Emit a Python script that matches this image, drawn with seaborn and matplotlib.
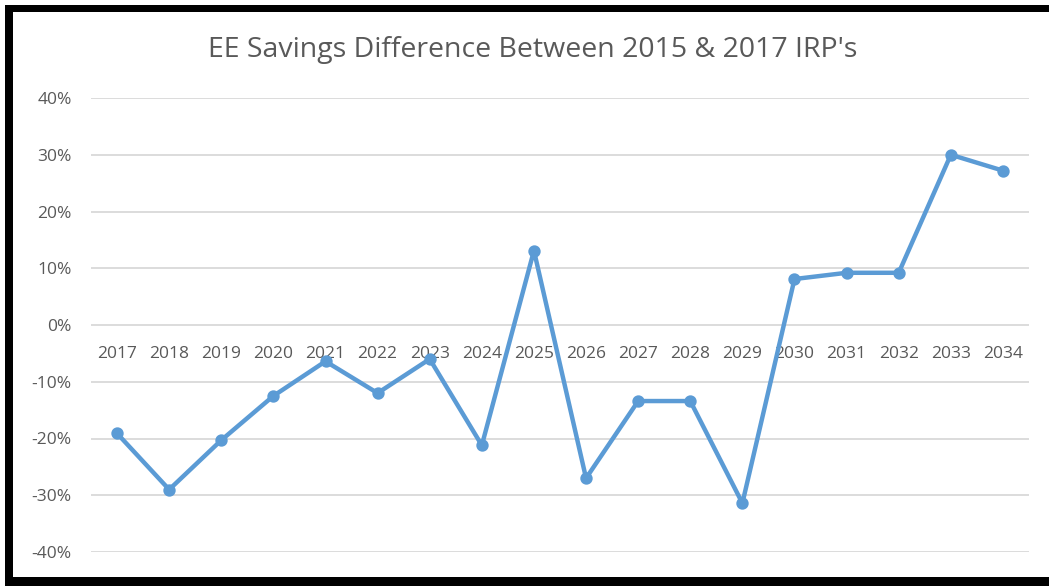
import matplotlib
matplotlib.use("Agg")
import matplotlib.pyplot as plt
from matplotlib.patches import Rectangle
from matplotlib.ticker import FuncFormatter, MultipleLocator
import seaborn as sns
import pandas as pd

years = ["2017", "2018", "2019", "2020", "2021", "2022", "2023", "2024", "2025",
         "2026", "2027", "2028", "2029", "2030", "2031", "2032", "2033", "2034"]
savings_diff = [-19.1, -29.0, -20.3, -12.5, -6.4, -12.0, -6.0, -21.2, 13.1,
                -27.0, -13.4, -13.4, -31.4, 8.1, 9.2, 9.2, 30.0, 27.2]
title = "EE Savings Difference Between 2015 & 2017 IRP's"

df = pd.DataFrame({"year": years, "diff": savings_diff})

sns.set_theme(style="white")
plt.rcParams["font.family"] = ["Open Sans", "DejaVu Sans"]

W, H = 1049, 586
fig = plt.figure(figsize=(W / 100, H / 100), dpi=100)
fig.patch.set_facecolor("white")
ax = fig.add_axes([91 / W, (H - 552) / H, (1029 - 91) / W, (552 - 98) / H])

line_color = "#5B9BD5"
text_color = "#595959"

sns.pointplot(data=df, x="year", y="diff", ax=ax, color=line_color,
              markers="o", linestyles="-", errorbar=None,
              markersize=6.5, linewidth=3.2)

ax.set_xlim(-0.5, len(years) - 0.5)
ax.set_ylim(-40, 40)
ax.yaxis.set_major_locator(MultipleLocator(10))
ax.yaxis.set_major_formatter(FuncFormatter(lambda v, p: f"{int(round(v))}%"))
ax.grid(axis="y", color="#d9d9d9", linewidth=1.3)
ax.set_axisbelow(True)
for s in ["top", "right", "left"]:
    ax.spines[s].set_visible(False)
ax.spines["bottom"].set_position(("data", 0))
ax.spines["bottom"].set_visible(False)
ax.tick_params(axis="x", length=0, pad=15, labelsize=12.5, labelcolor=text_color)
ax.tick_params(axis="y", length=0, pad=14, labelsize=12.5, labelcolor=text_color)
ax.set_xlabel("")
ax.set_ylabel("")

fig.text(533 / W, 1 - 50 / H, title, ha="center", va="center",
         fontsize=20.5, color=text_color)

# frame: thick black border at left, top and bottom
fig.add_artist(Rectangle((5 / W, 0), 8 / W, 1 - 5 / H, transform=fig.transFigure,
                         facecolor="black", edgecolor="none"))
fig.add_artist(Rectangle((5 / W, 1 - 12 / H), 1 - 5 / W, 7 / H, transform=fig.transFigure,
                         facecolor="black", edgecolor="none"))
fig.add_artist(Rectangle((5 / W, 0), 1 - 5 / W, 9 / H, transform=fig.transFigure,
                         facecolor="black", edgecolor="none"))

fig.savefig("out.png", dpi=100, facecolor="white")
